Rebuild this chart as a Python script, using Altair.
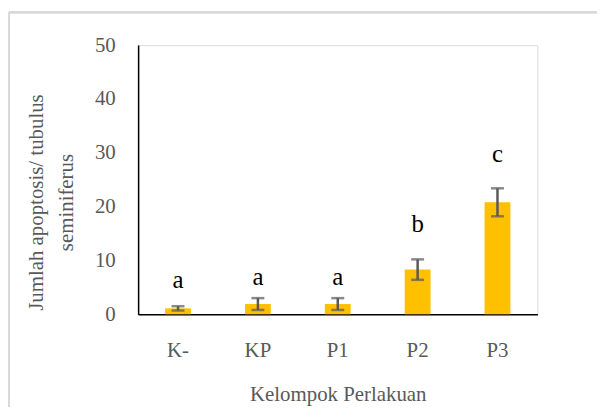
import altair as alt
import pandas as pd

groups = ["K-", "KP", "P1", "P2", "P3"]
means = [1.1, 1.9, 1.9, 8.3, 20.8]
errors = [0.4, 1.1, 1.1, 1.9, 2.6]
letters = ["a", "a", "a", "b", "c"]
letter_y = [4.8, 5.4, 5.4, 15.2, 28.3]

df = pd.DataFrame({
    "group": groups,
    "mean": means,
    "lo": [m - e for m, e in zip(means, errors)],
    "hi": [m + e for m, e in zip(means, errors)],
    "letter": letters,
    "ly": letter_y,
})

FONT = "Liberation Serif"
GRAY = "#595959"

x = alt.X("group:N", sort=groups,
          scale=alt.Scale(paddingInner=0.0, paddingOuter=0.0),
          axis=alt.Axis(title="Kelompok Perlakuan", labelAngle=0, tickSize=0,
                        domainColor="black", domainWidth=1.5,
                        labelFont=FONT, labelFontSize=21, labelColor=GRAY,
                        labelPadding=26, titleFont=FONT, titleFontSize=21,
                        titleColor=GRAY, titleFontWeight="normal", titlePadding=23))
y_scale = alt.Scale(domain=[0, 50])

bars = alt.Chart(df).mark_bar(size=26, color="#FFC000").encode(
    x=x,
    y=alt.Y("mean:Q", scale=y_scale,
            axis=alt.Axis(values=[0, 10, 20, 30, 40, 50], grid=False, tickSize=0,
                          domainColor="black", domainWidth=1.5,
                          labelFont=FONT, labelFontSize=21, labelColor=GRAY,
                          labelPadding=23,
                          title=["Jumlah apoptosis/ tubulus", "seminiferus"],
                          titleFont=FONT, titleFontSize=21, titleColor=GRAY,
                          titleFontWeight="normal", titleLineHeight=30,
                          titleAngle=-90, titleAlign="center", titleBaseline="middle",
                          titleX=-102, titleY=158)),
)

err = alt.Chart(df).mark_rule(color=GRAY, strokeWidth=2.5).encode(
    x=alt.X("group:N", sort=groups), y=alt.Y("lo:Q", scale=y_scale), y2="hi:Q")
cap_lo = alt.Chart(df).mark_tick(color=GRAY, size=13, thickness=2.5).encode(
    x=alt.X("group:N", sort=groups), y=alt.Y("lo:Q", scale=y_scale))
cap_hi = alt.Chart(df).mark_tick(color=GRAY, size=13, thickness=2.5).encode(
    x=alt.X("group:N", sort=groups), y=alt.Y("hi:Q", scale=y_scale))
text = alt.Chart(df).mark_text(font=FONT, fontSize=25, color="black",
                               baseline="alphabetic").encode(
    x=alt.X("group:N", sort=groups), y=alt.Y("ly:Q", scale=y_scale), text="letter:N")

frame_top = alt.Chart(df).mark_rule(color="#d9d9d9", strokeWidth=2).encode(
    x=alt.value(-130), x2=alt.value(470), y=alt.value(-33))
frame_left = alt.Chart(df).mark_rule(color="#d9d9d9", strokeWidth=2).encode(
    x=alt.value(-130), y=alt.value(-33), y2=alt.value(370))

chart = alt.layer(frame_top, frame_left, bars, err, cap_lo, cap_hi, text).properties(
    width=402, height=271,
    autosize=alt.AutoSizeParams(type="none"),
    padding={"left": 131, "top": 36, "right": 60, "bottom": 92},
).configure_view(stroke=None).configure(background="white", font=FONT)

chart.save("out.html", embed_options={"renderer": "svg", "actions": False})
